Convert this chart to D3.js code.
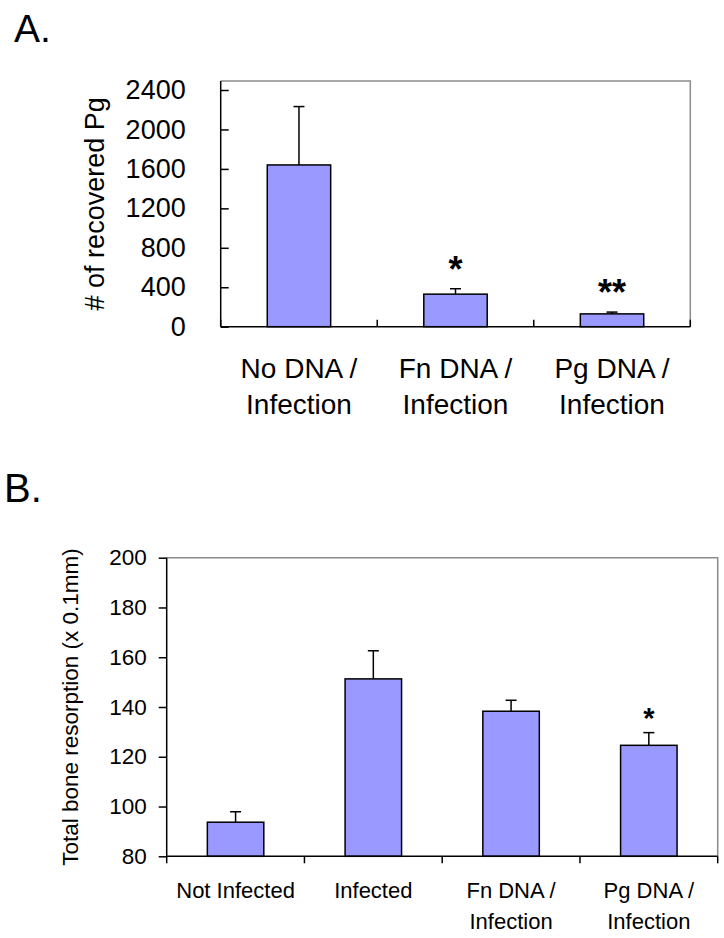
<!DOCTYPE html>
<html>
<head>
<meta charset="utf-8">
<script src="https://cdn.jsdelivr.net/npm/d3@7/dist/d3.min.js"></script>
<style>
  html, body { margin: 0; padding: 0; background: #fff; }
  svg { display: block; }
  text { font-family: "Liberation Sans", Arial, Helvetica, sans-serif; fill: #000; }
</style>
</head>
<body>
<svg id="chart" width="724" height="938"></svg>
<script>
// ---------- Data: panel A ----------
const catsA = [["No DNA /", "Infection"], ["Fn DNA /", "Infection"], ["Pg DNA /", "Infection"]];
const valuesA = [1640, 330, 130];
const errorsA = [592, 55, 18];
const sigA = ["", "*", "**"];
const ticksA = [0, 400, 800, 1200, 1600, 2000, 2400];
const yTitleA = "# of recovered Pg";

// ---------- Data: panel B ----------
const catsB = [["Not Infected"], ["Infected"], ["Fn DNA /", "Infection"], ["Pg DNA /", "Infection"]];
const valuesB = [93.7, 151.3, 138.3, 124.6];
const errorsB = [4.2, 11.3, 4.4, 5.1];
const sigB = ["", "", "", "*"];
const ticksB = [80, 100, 120, 140, 160, 180, 200];
const yTitleB = "Total bone resorption (x 0.1mm)";

const barColor = "#9999ff";
const svg = d3.select("#chart");

// Panel labels
svg.append("text").attr("x", 14).attr("y", 42).attr("font-size", 39).text("A.");
svg.append("text").attr("x", 4).attr("y", 502).attr("font-size", 40).text("B.");

function panel(cfg) {
  const g = svg.append("g");
  const x = d3.scaleBand().domain(cfg.cats.map((d, i) => i)).range([cfg.left, cfg.right]).padding(0);
  const y = d3.scaleLinear().domain(cfg.domain).range([cfg.bottom, cfg.yTop]);

  // frame (gray top/right)
  g.append("path")
    .attr("d", `M${cfg.left},${cfg.frameTop}H${cfg.right}V${cfg.bottom}`)
    .attr("fill", "none").attr("stroke", "#8c8c8c").attr("stroke-width", 1.5);

  // bars
  const bw = x.bandwidth() * cfg.barFrac;
  g.selectAll("rect.bar").data(cfg.values).enter().append("rect")
    .attr("x", (d, i) => x(i) + x.bandwidth() / 2 - bw / 2)
    .attr("y", d => y(d))
    .attr("width", bw)
    .attr("height", d => y(cfg.domain[0]) - y(d))
    .attr("fill", barColor).attr("stroke", "#000").attr("stroke-width", 1.5);

  // error bars
  cfg.values.forEach((v, i) => {
    const cx = x(i) + x.bandwidth() / 2;
    const top = y(v + cfg.errors[i]);
    g.append("line").attr("x1", cx).attr("x2", cx).attr("y1", y(v)).attr("y2", top)
      .attr("stroke", "#000").attr("stroke-width", 1.5);
    g.append("line").attr("x1", cx - cfg.cap / 2).attr("x2", cx + cfg.cap / 2).attr("y1", top).attr("y2", top)
      .attr("stroke", "#000").attr("stroke-width", 1.5);
    if (cfg.sig[i]) {
      g.append("text").attr("x", cx).attr("y", top - cfg.sigOffset)
        .attr("text-anchor", "middle").attr("font-size", cfg.sigSize).attr("font-weight", "bold")
        .text(cfg.sig[i]);
    }
  });

  // y axis
  const ya = d3.axisLeft(y).tickValues(cfg.ticks).tickSizeOuter(0)
    .tickSize(cfg.yTickSize).tickPadding(cfg.yTickPad).tickFormat(d3.format("d"));
  const yg = g.append("g").attr("transform", `translate(${cfg.left},0)`).call(ya);
  yg.select(".domain").remove();
  yg.selectAll(".tick line").attr("stroke", "#000").attr("stroke-width", 1.5);
  yg.selectAll(".tick text").attr("font-size", cfg.tickSize).attr("font-family", null);
  g.append("line").attr("x1", cfg.left).attr("x2", cfg.left).attr("y1", cfg.frameTop).attr("y2", cfg.bottom)
    .attr("stroke", "#000").attr("stroke-width", 1.5);

  // x axis line
  g.append("line").attr("x1", cfg.left).attr("x2", cfg.right).attr("y1", cfg.bottom).attr("y2", cfg.bottom)
    .attr("stroke", "#000").attr("stroke-width", 1.5);
  // category boundary ticks
  const bounds = cfg.cats.map((d, i) => x(i)).concat([cfg.right]);
  bounds.forEach(b => {
    g.append("line").attr("x1", b).attr("x2", b).attr("y1", cfg.bottom).attr("y2", cfg.bottom + cfg.xTick)
      .attr("stroke", "#000").attr("stroke-width", 1.5);
  });
  // category labels
  cfg.cats.forEach((lines, i) => {
    const t = g.append("text").attr("text-anchor", "middle").attr("font-size", cfg.xLabelSize)
      .attr("x", x(i) + x.bandwidth() / 2).attr("y", cfg.xLabelY);
    lines.forEach((ln, j) => {
      t.append("tspan").attr("x", x(i) + x.bandwidth() / 2).attr("dy", j === 0 ? 0 : cfg.xLineGap).text(ln);
    });
  });

  // y title
  g.append("text")
    .attr("transform", `translate(${cfg.yTitleX},${(cfg.frameTop + cfg.bottom) / 2}) rotate(-90)`)
    .attr("text-anchor", "middle").attr("font-size", cfg.yTitleSize).text(cfg.yTitle);
}

panel({
  cats: catsA, values: valuesA, errors: errorsA, sig: sigA, ticks: ticksA,
  domain: [0, 2400], left: 220.7, right: 690.3, bottom: 326.7, yTop: 90, frameTop: 81,
  barFrac: 0.405, cap: 11, sigOffset: 7, sigSize: 36,
  yTickSize: -8, yTickPad: 35, tickSize: 27, xTick: -7,
  xLabelSize: 28, xLabelY: 378, xLineGap: 36,
  yTitle: yTitleA, yTitleX: 104, yTitleSize: 27
});

panel({
  cats: catsB, values: valuesB, errors: errorsB, sig: sigB, ticks: ticksB,
  domain: [80, 200], left: 166.7, right: 717.7, bottom: 856.3, yTop: 557.7, frameTop: 557.7,
  barFrac: 0.41, cap: 11, sigOffset: 5, sigSize: 29,
  yTickSize: 8, yTickPad: 12, tickSize: 22.5, xTick: 7,
  xLabelSize: 22, xLabelY: 898, xLineGap: 31,
  yTitle: yTitleB, yTitleX: 78, yTitleSize: 22.5
});
</script>
</body>
</html>
